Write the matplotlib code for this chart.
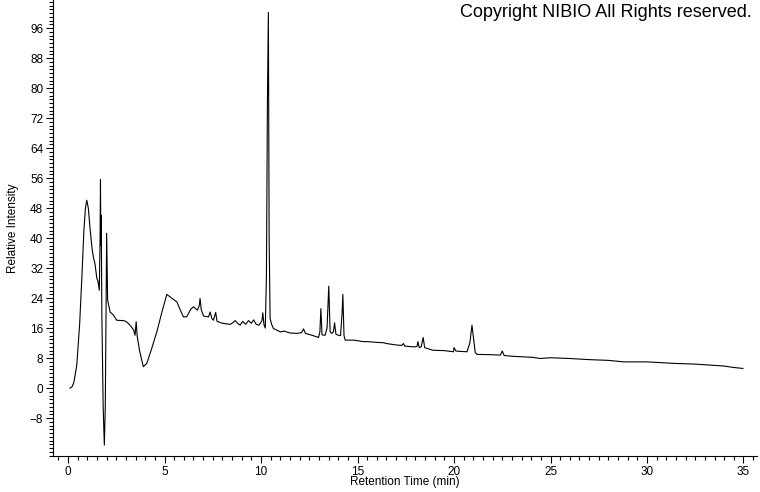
import numpy as np
import matplotlib
matplotlib.use("Agg")
import matplotlib.pyplot as plt
from matplotlib.ticker import MultipleLocator

# retention time (min) and relative intensity
rt_min = [
    0.10, 0.20, 0.30, 0.45, 0.60, 0.72, 0.82, 0.90, 0.97, 1.05,
    1.15, 1.25, 1.31, 1.40, 1.49, 1.55, 1.62, 1.66, 1.68, 1.70,
    1.72, 1.75, 1.82, 1.88, 1.93, 1.97, 2.00, 2.03, 2.05, 2.18,
    2.35, 2.52, 2.87, 3.00, 3.21, 3.40, 3.47, 3.53, 3.58, 3.70,
    3.90, 4.08, 4.30, 4.60, 4.90, 5.12, 5.37, 5.64, 5.80, 5.98,
    6.15, 6.35, 6.50, 6.70, 6.80, 6.84, 6.90, 7.02, 7.28, 7.36,
    7.45, 7.53, 7.65, 7.72, 8.00, 8.40, 8.55, 8.66, 8.80, 8.92,
    9.05, 9.20, 9.35, 9.50, 9.62, 9.75, 9.90, 10.05, 10.09, 10.15,
    10.22, 10.28, 10.33, 10.38, 10.42, 10.47, 10.55, 10.64, 11.00, 11.20,
    11.50, 11.85, 12.10, 12.20, 12.30, 12.70, 12.98, 13.05, 13.10, 13.16,
    13.32, 13.42, 13.51, 13.58, 13.67, 13.75, 13.81, 13.88, 14.00, 14.12,
    14.20, 14.24, 14.30, 14.36, 14.80, 15.30, 15.50, 16.00, 16.35, 16.50,
    17.00, 17.30, 17.38, 17.45, 17.90, 18.08, 18.13, 18.20, 18.30, 18.40,
    18.48, 18.90, 19.50, 19.97, 20.00, 20.10, 20.30, 20.67, 20.82, 20.93,
    21.02, 21.10, 21.20, 22.00, 22.40, 22.50, 22.60, 23.00, 24.10, 24.46,
    25.00, 26.00, 27.00, 28.00, 28.80, 30.00, 31.40, 32.50, 33.97, 34.50,
    34.97,
]
rel_intensity = [
    0.0, 0.3, 1.5, 6.0, 17.0, 30.0, 42.0, 48.0, 50.1, 48.0,
    42.0, 37.0, 35.0, 33.0, 29.3, 28.5, 26.1, 40.0, 55.6, 38.0,
    46.0, 20.0, -5.0, -15.2, -5.0, 20.0, 41.3, 30.0, 23.5, 20.3,
    19.5, 18.1, 18.0, 17.8, 16.8, 15.5, 14.1, 17.7, 14.0, 10.1,
    5.7, 6.6, 10.0, 15.0, 21.0, 25.0, 24.0, 23.0, 21.0, 19.0,
    19.0, 21.0, 21.7, 20.8, 22.0, 23.9, 21.0, 19.2, 19.0, 20.3,
    18.6, 18.1, 20.2, 17.8, 17.3, 17.0, 17.5, 18.0, 17.2, 16.8,
    17.8, 17.0, 18.0, 17.3, 18.2, 17.0, 16.8, 18.0, 20.1, 17.0,
    16.0, 30.0, 75.9, 100.2, 40.0, 18.6, 17.0, 15.9, 15.0, 15.2,
    14.7, 14.6, 14.8, 15.8, 14.6, 14.0, 13.5, 15.0, 21.2, 14.2,
    14.1, 16.0, 27.2, 15.0, 14.6, 15.0, 17.4, 14.4, 14.1, 14.0,
    20.0, 25.0, 14.0, 12.8, 12.8, 12.4, 12.4, 12.2, 12.1, 11.9,
    11.5, 11.4, 11.9, 11.2, 11.0, 11.1, 12.4, 10.8, 11.0, 13.5,
    10.8, 10.1, 10.0, 9.7, 10.8, 9.9, 9.8, 9.7, 12.0, 16.8,
    13.0, 9.5, 9.0, 8.9, 8.8, 9.9, 8.7, 8.5, 8.2, 7.9,
    8.1, 7.9, 7.6, 7.4, 7.0, 7.0, 6.6, 6.4, 5.9, 5.5,
    5.25,
]

x_ticks = [0, 5, 10, 15, 20, 25, 30, 35]
y_ticks = [-8, 0, 8, 16, 24, 32, 40, 48, 56, 64, 72, 80, 88, 96]

plt.rcParams["font.family"] = ["Liberation Sans", "DejaVu Sans"]

fig = plt.figure(figsize=(7.6, 4.92), dpi=100)
ax = fig.add_axes([53 / 760, 36 / 492, 704 / 760, 456 / 492])

ax.plot(rt_min, rel_intensity, color="black", linewidth=0.8)

ax.set_xlim(-0.78, 35.7)
ax.set_ylim(-18.1, 103.5)

ax.set_xticks(x_ticks)
ax.set_yticks(y_ticks)
ax.xaxis.set_minor_locator(MultipleLocator(0.5))
ax.yaxis.set_minor_locator(MultipleLocator(1))
ax.tick_params(axis="both", which="major", direction="out", length=5, width=0.8,
               labelsize=8.5, pad=2, color="black")
ax.tick_params(axis="both", which="minor", direction="out", length=3, width=0.8,
               color="black")

for side in ["top", "right"]:
    ax.spines[side].set_visible(False)
for side in ["left", "bottom"]:
    ax.spines[side].set_linewidth(0.8)

ax.set_xlabel("Retention Time (min)", fontsize=8.5, labelpad=-1)
ax.set_ylabel("Relative Intensity", fontsize=8.5, labelpad=8)

fig.text(752 / 760, 1 - 4 / 492, "Copyright NIBIO All Rights reserved.",
         ha="right", va="top", fontsize=13)

fig.savefig("out.png", dpi=100)
